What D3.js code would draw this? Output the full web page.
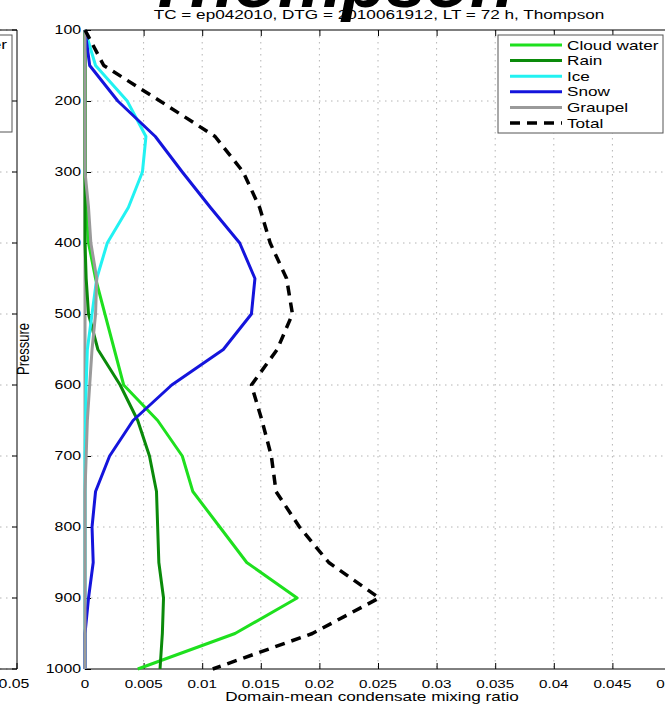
<!DOCTYPE html>
<html>
<head>
<meta charset="utf-8">
<script src="https://cdn.jsdelivr.net/npm/d3@7"></script>
<style>
  html, body { margin: 0; padding: 0; background: #fff; }
  svg { display: block; }
  text { font-family: "Liberation Sans", Arial, Helvetica, sans-serif; fill: #000; }
</style>
</head>
<body>
<svg id="chart" width="665" height="705"></svg>
<script>
// ---------------- data ----------------
const levels = [100, 150, 200, 250, 300, 350, 400, 450, 500, 550, 600, 650, 700, 750, 800, 850, 900, 950, 1000];
const cloudWater = [0, 0, 0, 0, 0, 0.0001, 0.0003, 0.0009, 0.0017, 0.0025, 0.0033, 0.0062, 0.0083, 0.0092, 0.0115, 0.0138, 0.0181, 0.0128, 0.0045];
const rain = [0, 0, 0, 0, 0, 0, 0, 0.0001, 0.0003, 0.0011, 0.0030, 0.0045, 0.0055, 0.0061, 0.0062, 0.0063, 0.0067, 0.0066, 0.0064];
const ice = [0, 0.0009, 0.0036, 0.0052, 0.0049, 0.0037, 0.0019, 0.0010, 0.0006, 0.0002, 0.0001, 0.00005, 0, 0, 0, 0, 0, 0, 0];
const snow = [0, 0.0004, 0.0028, 0.0060, 0.0083, 0.0107, 0.0132, 0.0145, 0.0142, 0.0118, 0.0074, 0.0041, 0.0021, 0.0009, 0.0006, 0.0007, 0.0003, 0, 0];
const graupel = [0, 0, 0, 0, 0, 0.0003, 0.0005, 0.0010, 0.0009, 0.0006, 0.0004, 0.0002, 0.0001, 0, 0, 0, 0, 0, 0];
const total = [0, 0.0016, 0.0064, 0.0111, 0.0135, 0.0149, 0.0158, 0.0172, 0.0177, 0.0164, 0.0142, 0.0151, 0.0159, 0.0163, 0.0183, 0.0208, 0.0251, 0.0194, 0.0109];

const xTicks = [0, 0.005, 0.01, 0.015, 0.02, 0.025, 0.03, 0.035, 0.04, 0.045, 0.05];
const xTickLabels = ["0", "0.005", "0.01", "0.015", "0.02", "0.025", "0.03", "0.035", "0.04", "0.045", "0.05"];
const yTicks = [100, 200, 300, 400, 500, 600, 700, 800, 900, 1000];

const seriesNames = ["Cloud water", "Rain", "Ice", "Snow", "Graupel", "Total"];
const seriesColors = ["#1ee01e", "#0a8a0a", "#22f2f2", "#1414dc", "#9a9a9a", "#000000"];

const bigTitle = "Thompson";
const subTitle = "TC = ep042010, DTG = 2010061912, LT = 72 h, Thompson";
const xLabel = "Domain-mean condensate mixing ratio";
const yLabel = "Pressure";

// ---------------- layout ----------------
const SX = 1.32; // horizontal text stretch of the original image
const plot = { left: 85, right: 671, top: 30, bottom: 669 };
const svg = d3.select("#chart");

const x = d3.scaleLinear().domain([0, 0.05]).range([plot.left, plot.right]);
const y = d3.scaleLinear().domain([100, 1000]).range([plot.top, plot.bottom]);

function stext(parent, px, py, str, size, anchor, extra, sx) {
  const g = parent.append("g").attr("transform", `translate(${px},${py}) scale(${sx || SX},1)`);
  const t = g.append("text").text(str)
    .attr("font-size", size)
    .attr("text-anchor", anchor || "middle");
  if (extra) extra(t);
  return t;
}

// ---------------- left partial panel ----------------
const lp = svg.append("g");
const lpRight = 17;
yTicks.forEach(v => {
  lp.append("line").attr("x1", 0).attr("x2", lpRight).attr("y1", y(v)).attr("y2", y(v))
    .attr("stroke", "#b4b4b4").attr("stroke-dasharray", "1.5,4.5");
  lp.append("line").attr("x1", lpRight - 5).attr("x2", lpRight).attr("y1", y(v)).attr("y2", y(v))
    .attr("stroke", "#000");
});
lp.append("rect").attr("x", -120).attr("y", 35).attr("width", 132).attr("height", 97)
  .attr("fill", "#fff").attr("stroke", "#555").attr("stroke-width", 1);
stext(lp, 7, 49, "Cloud water", 13, "end");
lp.append("path").attr("d", `M0,${plot.top}H${lpRight}V${plot.bottom}H0`)
  .attr("fill", "none").attr("stroke", "#000").attr("stroke-width", 1);
lp.append("line").attr("x1", lpRight).attr("x2", lpRight).attr("y1", plot.bottom).attr("y2", plot.bottom - 6).attr("stroke", "#000");
stext(lp, 14, 688, "0.05", 12, "middle");

// ---------------- grid ----------------
const grid = svg.append("g");
xTicks.slice(1, -1).forEach(v => {
  grid.append("line").attr("x1", x(v)).attr("x2", x(v)).attr("y1", plot.top).attr("y2", plot.bottom)
    .attr("stroke", "#b4b4b4").attr("stroke-dasharray", "1.5,4.5");
});
yTicks.slice(1, -1).forEach(v => {
  grid.append("line").attr("x1", plot.left).attr("x2", plot.right).attr("y1", y(v)).attr("y2", y(v))
    .attr("stroke", "#b4b4b4").attr("stroke-dasharray", "1.5,4.5");
});

// ---------------- frame and ticks ----------------
const frame = svg.append("g");
frame.append("rect").attr("x", plot.left).attr("y", plot.top)
  .attr("width", plot.right - plot.left).attr("height", plot.bottom - plot.top)
  .attr("fill", "none").attr("stroke", "#000").attr("stroke-width", 1);
frame.append("line").attr("x1", plot.left).attr("x2", plot.left).attr("y1", plot.top).attr("y2", plot.bottom)
  .attr("stroke", "#9a9a9a").attr("stroke-width", 3);

const xAxisBottom = d3.axisBottom(x).tickValues(xTicks).tickSizeInner(-6).tickSizeOuter(0).tickFormat("");
const xAxisTop = d3.axisTop(x).tickValues(xTicks).tickSizeInner(-6).tickSizeOuter(0).tickFormat("");
const yAxisLeft = d3.axisLeft(y).tickValues(yTicks).tickSizeInner(-6).tickSizeOuter(0).tickFormat("");
const yAxisRight = d3.axisRight(y).tickValues(yTicks).tickSizeInner(-6).tickSizeOuter(0).tickFormat("");
[[xAxisBottom, `translate(0,${plot.bottom})`], [xAxisTop, `translate(0,${plot.top})`],
 [yAxisLeft, `translate(${plot.left},0)`], [yAxisRight, `translate(${plot.right},0)`]].forEach(([ax, tr]) => {
  const g = frame.append("g").attr("transform", tr).call(ax);
  g.select(".domain").remove();
  g.selectAll("line").attr("stroke", "#000");
});

// tick labels
xTicks.forEach((v, i) => stext(svg, x(v), 688, xTickLabels[i], 11.5, "middle"));
yTicks.forEach(v => stext(svg, 81, y(v), String(v), 12, "end", t => t.attr("dy", "0.36em")));

// ---------------- series ----------------
const allSeries = [cloudWater, rain, ice, snow, graupel, total];
const line = d3.line().x(d => x(d[0])).y(d => y(d[1]));
const lines = svg.append("g");
allSeries.forEach((vals, i) => {
  const pts = vals.map((v, j) => [v, levels[j]]);
  const p = lines.append("path").datum(pts).attr("d", line)
    .attr("fill", "none").attr("stroke", seriesColors[i])
    .attr("stroke-width", 3).attr("stroke-linejoin", "round");
  if (seriesNames[i] === "Total") p.attr("stroke-dasharray", "10,7").attr("stroke-width", 3.5);
});

// ---------------- legend ----------------
const lg = svg.append("g");
lg.append("rect").attr("x", 498).attr("y", 35).attr("width", 165).attr("height", 98)
  .attr("fill", "#fff").attr("stroke", "#555").attr("stroke-width", 1);
seriesNames.forEach((name, i) => {
  const ly = 45 + i * 15.6;
  const l = lg.append("line").attr("x1", 510).attr("x2", 562).attr("y1", ly).attr("y2", ly)
    .attr("stroke", seriesColors[i]).attr("stroke-width", 3);
  if (name === "Total") l.attr("stroke-dasharray", "10,7").attr("stroke-width", 3.5);
  stext(lg, 567, ly, name, 13, "start", t => t.attr("dy", "0.36em"));
});

// ---------------- titles ----------------
stext(svg, 379, 19, subTitle, 13, "middle");
stext(svg, 330, 7, bigTitle, 72, "middle", t => t.attr("font-weight", "bold").attr("font-style", "italic"), 1);
stext(svg, 372, 701, xLabel, 13, "middle");
svg.append("g").attr("transform", `translate(29,349) scale(${SX},1)`)
  .append("text").attr("transform", "rotate(-90)").attr("text-anchor", "middle")
  .attr("font-size", 13).text(yLabel);
</script>
</body>
</html>
